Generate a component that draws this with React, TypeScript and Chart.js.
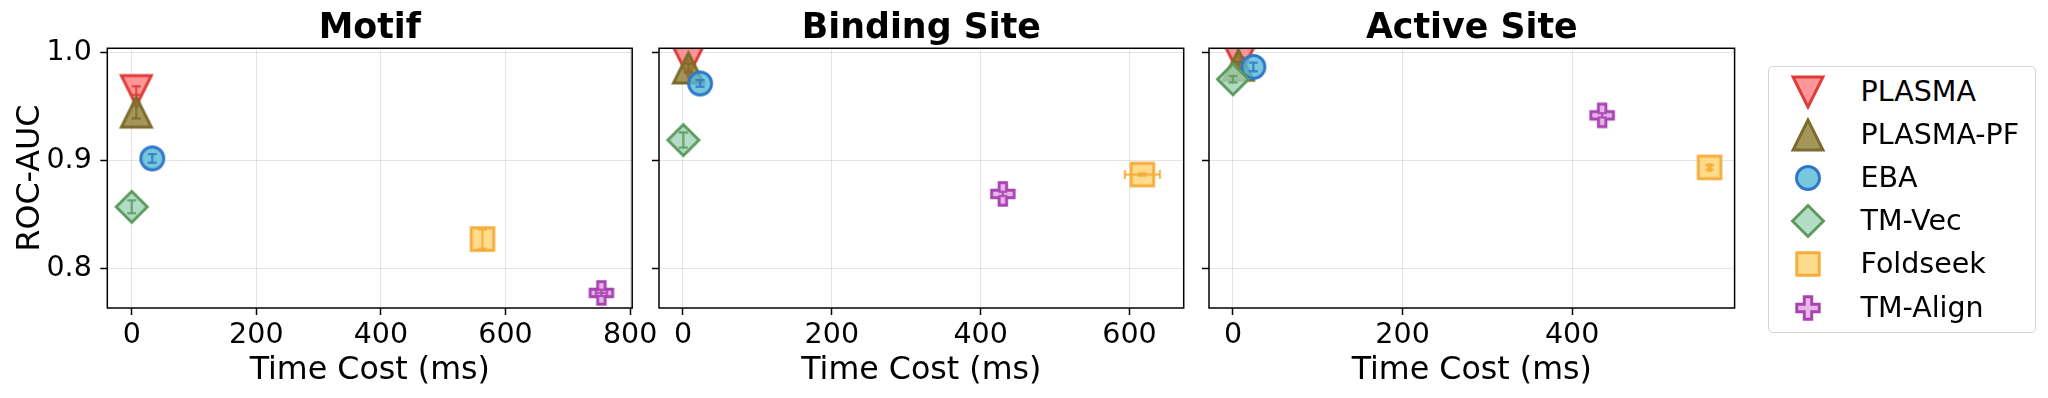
import React, { useEffect, useRef } from "react";
import { Chart, registerables } from "chart.js";

Chart.register(...registerables);

const FONT = "'DejaVu Sans', 'Liberation Sans', sans-serif";
Chart.defaults.font.family = FONT;
Chart.defaults.color = "#000";

// ---------- data ----------
const panelTitles = ["Motif", "Binding Site", "Active Site"];
const methods = ["PLASMA", "PLASMA-PF", "EBA", "TM-Vec", "Foldseek", "TM-Align"];
const shapes = ["triDown", "triUp", "circle", "diamond", "square", "plus"];
const faceColors = [
  "rgba(252,124,124,0.8)",
  "rgba(141,124,48,0.8)",
  "rgba(85,185,212,0.8)",
  "rgba(159,211,184,0.8)",
  "rgba(255,211,111,0.8)",
  "rgba(225,164,225,0.8)",
];
const edgeColors = ["#de3a3a", "#7b6b2c", "#2f78c8", "#5b9a5b", "#f5ac3a", "#a843b3"];

const motifTime = [7.4, 7.4, 33, 0, 563, 754];
const motifAuc = [0.965, 0.945, 0.902, 0.857, 0.827, 0.777];
const motifAucErr = [0.004, 0.006, 0.004, 0.006, 0.009, 0.003];
const motifTimeErr = [0, 0, 0, 0, 0, 9];

const bindingTime = [7, 7.4, 23, 0.5, 617.3, 429.8];
const bindingAuc = [0.992, 0.986, 0.9716, 0.919, 0.887, 0.869];
const bindingAucErr = [0.0015, 0.004, 0.003, 0.007, 0.001, 0.002];
const bindingTimeErr = [0, 0, 0, 0, 23.5, 0];

const activeTime = [8, 6.4, 24, 0, 562.1, 435.4];
const activeAuc = [0.993, 0.9886, 0.987, 0.9755, 0.8936, 0.942];
const activeAucErr = [0.003, 0.003, 0.004, 0.003, 0.002, 0.002];
const activeTimeErr = [0, 0, 0, 0, 1.4, 0];

const xTicksMotif = [0, 200, 400, 600, 800];
const xTicksBinding = [0, 200, 400, 600];
const xTicksActive = [0, 200, 400];
const yTicks = [0.8, 0.9, 1.0];

const xLimMotif = [-39.2, 803.4];
const xLimBinding = [-32.2, 672.8];
const xLimActive = [-28.3, 591.6];
const yLim = [0.763, 1.0043];

const xLabel = "Time Cost (ms)";
const yLabel = "ROC-AUC";

const panelTimes = [motifTime, bindingTime, activeTime];
const panelAucs = [motifAuc, bindingAuc, activeAuc];
const panelAucErrs = [motifAucErr, bindingAucErr, activeAucErr];
const panelTimeErrs = [motifTimeErr, bindingTimeErr, activeTimeErr];
const panelXTicks = [xTicksMotif, xTicksBinding, xTicksActive];
const panelXLims = [xLimMotif, xLimBinding, xLimActive];

// ---------- layout (pixels) ----------
const H = 398;
const panelBoxes = [
  { left: 0, width: 662, yAxisWidth: 107.3, padRight: 29.8 },
  { left: 640, width: 564, yAxisWidth: 18.1, padRight: 20.3 },
  { left: 1190, width: 565, yAxisWidth: 18.9, padRight: 20.4 },
];

// ---------- markers ----------
function makeMarker(shape: string, face: string, edge: string): HTMLCanvasElement {
  const S = 46;
  const c = S / 2;
  const cv = document.createElement("canvas");
  cv.width = S;
  cv.height = S;
  const ctx = cv.getContext("2d")!;
  ctx.lineWidth = 2.9;
  ctx.lineJoin = "miter";
  ctx.fillStyle = face;
  ctx.strokeStyle = edge;
  ctx.beginPath();
  if (shape === "triDown" || shape === "triUp") {
    const w = 30, h = 30;
    const s = shape === "triDown" ? 1 : -1;
    ctx.moveTo(c, c + (s * h) / 2);
    ctx.lineTo(c - w / 2, c - (s * h) / 2);
    ctx.lineTo(c + w / 2, c - (s * h) / 2);
    ctx.closePath();
  } else if (shape === "circle") {
    ctx.arc(c, c, 11.5, 0, Math.PI * 2);
  } else if (shape === "diamond") {
    const d = 15.5;
    ctx.moveTo(c, c - d);
    ctx.lineTo(c + d, c);
    ctx.lineTo(c, c + d);
    ctx.lineTo(c - d, c);
    ctx.closePath();
  } else if (shape === "square") {
    const h = 11.25;
    ctx.rect(c - h, c - h, 2 * h, 2 * h);
  } else {
    const h = 11.25, a = 3.75;
    const pts = [
      [-a, -h], [a, -h], [a, -a], [h, -a], [h, a], [a, a],
      [a, h], [-a, h], [-a, a], [-h, a], [-h, -a], [-a, -a],
    ];
    pts.forEach(([px, py], i) => (i === 0 ? ctx.moveTo(c + px, c + py) : ctx.lineTo(c + px, c + py)));
    ctx.closePath();
  }
  ctx.fill();
  ctx.stroke();
  return cv;
}

// ---------- plugins ----------
const errorBarPlugin = {
  id: "errbars",
  afterDatasetDraw(chart: any, args: any) {
    const ds: any = chart.data.datasets[args.index];
    const xs = chart.scales.x;
    const ys = chart.scales.y;
    const { ctx, chartArea: a } = chart;
    ctx.save();
    ctx.beginPath();
    ctx.rect(a.left, a.top, a.right - a.left, a.bottom - a.top);
    ctx.clip();
    ctx.strokeStyle = ds.errColor;
    ctx.globalAlpha = 0.8;
    ctx.lineWidth = 2.4;
    const cap = 4.5;
    const seg = (x1: number, y1: number, x2: number, y2: number) => {
      ctx.beginPath();
      ctx.moveTo(x1, y1);
      ctx.lineTo(x2, y2);
      ctx.stroke();
    };
    ds.data.forEach((pt: any, j: number) => {
      const ey = ds.errY[j];
      const ex = ds.errX[j];
      const px = xs.getPixelForValue(pt.x);
      const py = ys.getPixelForValue(pt.y);
      if (ey > 0) {
        const y1 = ys.getPixelForValue(pt.y - ey);
        const y2 = ys.getPixelForValue(pt.y + ey);
        seg(px, y1, px, y2);
        seg(px - cap, y1, px + cap, y1);
        seg(px - cap, y2, px + cap, y2);
      }
      if (ex > 0) {
        const x1 = xs.getPixelForValue(pt.x - ex);
        const x2 = xs.getPixelForValue(pt.x + ex);
        seg(x1, py, x2, py);
        seg(x1, py - cap, x1, py + cap);
        seg(x2, py - cap, x2, py + cap);
      }
    });
    ctx.restore();
  },
};

const framePlugin = {
  id: "frame",
  afterDraw(chart: any) {
    const { ctx, chartArea: a } = chart;
    ctx.save();
    ctx.strokeStyle = "#000";
    ctx.lineWidth = 1.5;
    ctx.strokeRect(a.left, a.top, a.right - a.left, a.bottom - a.top);
    ctx.restore();
  },
};

function Panel({ p, markers }: { p: number; markers: HTMLCanvasElement[] | null }) {
  const ref = useRef<HTMLCanvasElement>(null);
  const box = panelBoxes[p];
  useEffect(() => {
    if (!ref.current || !markers) return;
    const xt = panelXTicks[p];
    const chart = new Chart(ref.current, {
      type: "scatter",
      data: {
        datasets: methods.map((m, i) => ({
          label: m,
          data: [{ x: panelTimes[p][i], y: panelAucs[p][i] }],
          pointStyle: markers[i],
          pointRadius: 18,
          pointHoverRadius: 18,
          clip: 0,
          order: methods.length - i,
          errX: [panelTimeErrs[p][i]],
          errY: [panelAucErrs[p][i]],
          errColor: edgeColors[i],
        })) as any,
      },
      options: {
        animation: false,
        responsive: false,
        events: [],
        layout: { padding: { left: 0, right: box.padRight, top: 0, bottom: 0 } },
        plugins: {
          legend: { display: false },
          tooltip: { enabled: false },
          title: {
            display: true,
            text: panelTitles[p],
            fullSize: false,
            color: "#000",
            font: { size: 34.8, weight: "bold", family: FONT, lineHeight: 1.1 },
            padding: { top: 9.4, bottom: 0.6 },
          },
        },
        scales: {
          x: {
            type: "linear",
            min: panelXLims[p][0],
            max: panelXLims[p][1],
            afterBuildTicks: (s: any) => {
              s.ticks = xt.map((v) => ({ value: v }));
            },
            afterFit: (s: any) => {
              s.height = 90;
            },
            ticks: {
              font: { size: 28.5, family: FONT },
              color: "#000",
              padding: 3,
              maxRotation: 0,
              autoSkip: false,
              callback: (v: any) => String(v),
            },
            grid: {
              color: "rgba(0,0,0,0.1)",
              lineWidth: 1,
              tickColor: "#000",
              tickLength: 7,
              tickWidth: 1.5,
            },
            border: { display: false },
            title: {
              display: true,
              text: xLabel,
              color: "#000",
              font: { size: 31.7, family: FONT },
              padding: { top: 0, bottom: 8.6 },
            },
          },
          y: {
            type: "linear",
            min: yLim[0],
            max: yLim[1],
            afterBuildTicks: (s: any) => {
              s.ticks = yTicks.map((v) => ({ value: v }));
            },
            afterFit: (s: any) => {
              s.width = box.yAxisWidth;
            },
            ticks: {
              font: { size: 28.5, family: FONT },
              color: p === 0 ? "#000" : "rgba(0,0,0,0)",
              padding: 8.5,
              autoSkip: false,
              callback: (v: any) => Number(v).toFixed(1),
            },
            grid: {
              color: "rgba(0,0,0,0.1)",
              lineWidth: 1,
              tickColor: "#000",
              tickLength: 7,
              tickWidth: 1.5,
            },
            border: { display: false },
            title: {
              display: p === 0,
              text: yLabel,
              color: "#000",
              font: { size: 31.7, family: FONT },
              padding: { top: 11.5, bottom: 0 },
            },
          },
        },
      } as any,
      plugins: [errorBarPlugin, framePlugin],
    });
    return () => chart.destroy();
  }, [markers]);
  return (
    <canvas
      ref={ref}
      width={box.width}
      height={H}
      style={{ position: "absolute", left: box.left, top: 0, width: box.width, height: H }}
    />
  );
}

const legendBox = { left: 1767.7, top: 66, width: 268.3, height: 267.3 };
const legendMarkerX = 1808.3;
const legendTextX = 1860.5;
const legendRow0 = 92;
const legendRowStep = 43.1;

function Legend({ markers }: { markers: HTMLCanvasElement[] | null }) {
  const refs = useRef<(HTMLCanvasElement | null)[]>([]);
  useEffect(() => {
    if (!markers) return;
    refs.current.forEach((cv, i) => {
      if (!cv) return;
      const ctx = cv.getContext("2d")!;
      ctx.clearRect(0, 0, cv.width, cv.height);
      ctx.drawImage(markers[i], 0, 0);
    });
  }, [markers]);
  return (
    <div>
      <div
        style={{
          position: "absolute",
          left: legendBox.left,
          top: legendBox.top,
          width: legendBox.width,
          height: legendBox.height,
          border: "1.5px solid #d4d4d4",
          borderRadius: 5,
          boxSizing: "border-box",
          background: "rgba(255,255,255,0.8)",
        }}
      />
      {methods.map((m, i) => {
        const yc = legendRow0 + i * legendRowStep;
        return (
          <React.Fragment key={m}>
            <canvas
              ref={(el) => {
                refs.current[i] = el;
              }}
              width={46}
              height={46}
              style={{ position: "absolute", left: legendMarkerX - 23, top: yc - 23, width: 46, height: 46 }}
            />
            <div
              style={{
                position: "absolute",
                left: legendTextX,
                top: yc - 20,
                height: 40,
                lineHeight: "40px",
                fontFamily: FONT,
                fontSize: 28.5,
                color: "#000",
                whiteSpace: "nowrap",
              }}
            >
              {m}
            </div>
          </React.Fragment>
        );
      })}
    </div>
  );
}

export default function App() {
  const [markers, setMarkers] = React.useState<HTMLCanvasElement[] | null>(null);
  useEffect(() => {
    setMarkers(shapes.map((s, i) => makeMarker(s, faceColors[i], edgeColors[i])));
  }, []);
  return (
    <div
      style={{
        position: "absolute",
        left: 0,
        top: 0,
        width: 2048,
        height: H,
        background: "#fff",
        overflow: "hidden",
      }}
    >
      {[0, 1, 2].map((p) => (
        <Panel key={p} p={p} markers={markers} />
      ))}
      <Legend markers={markers} />
    </div>
  );
}
